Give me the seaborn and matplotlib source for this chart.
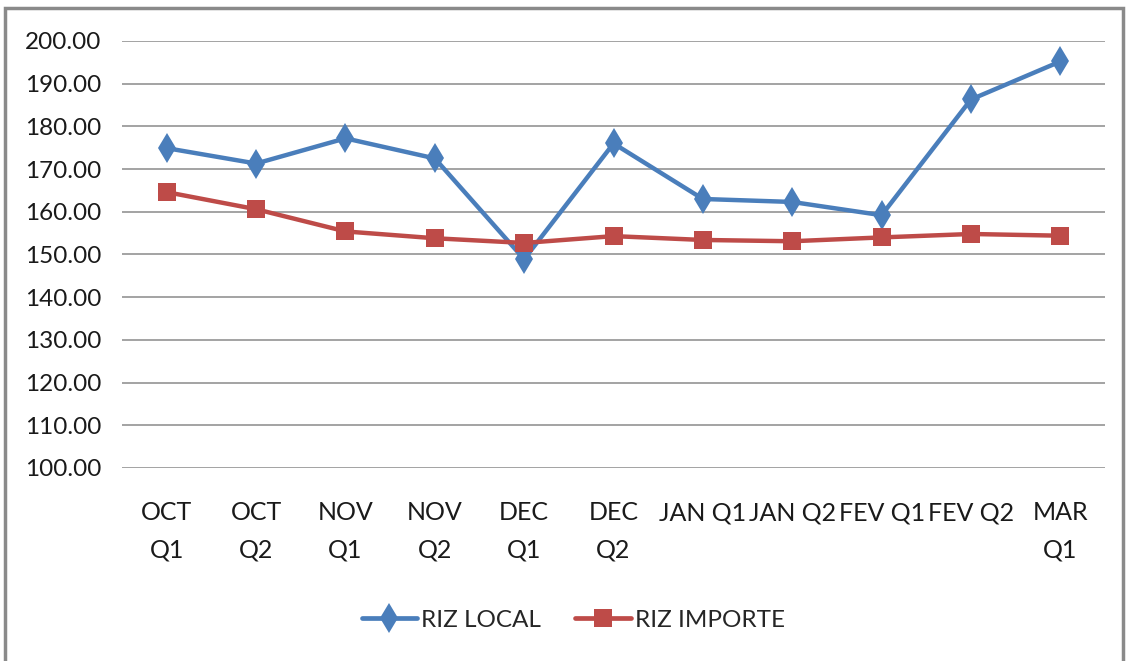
import pandas as pd
import matplotlib.pyplot as plt
import seaborn as sns
from matplotlib.patches import Rectangle

periods = ["OCT\nQ1", "OCT\nQ2", "NOV\nQ1", "NOV\nQ2", "DEC\nQ1", "DEC\nQ2",
           "JAN Q1", "JAN Q2", "FEV Q1", "FEV Q2", "MAR\nQ1"]
riz_local = [174.9, 171.3, 177.2, 172.5, 148.9, 176.0, 163.0, 162.3, 159.2, 186.3, 195.2]
riz_importe = [164.6, 160.6, 155.4, 153.8, 152.7, 154.3, 153.4, 153.1, 154.0, 154.8, 154.4]
series = ["RIZ LOCAL", "RIZ IMPORTE"]
colors = ["#4A7EBB", "#BE4B48"]

df = pd.DataFrame({
    "period": periods * 2,
    "value": riz_local + riz_importe,
    "serie": [series[0]] * len(periods) + [series[1]] * len(periods),
})

sns.set_style("white")
plt.rcParams["font.family"] = ["Lato", "DejaVu Sans"]

fig = plt.figure(figsize=(11.28, 6.61), dpi=100)
ax = fig.add_axes([0.1082, 0.292, 0.8714, 0.646])

sns.lineplot(data=df, x="period", y="value", hue="serie", style="serie",
             hue_order=series, style_order=series, palette=colors,
             markers={"RIZ LOCAL": "d", "RIZ IMPORTE": "s"}, dashes=False,
             linewidth=3.2, markeredgewidth=0, ax=ax, legend=False, sort=False)
for line, ms in zip(ax.lines, [15, 13.5]):
    line.set_markersize(ms)

ax.set_ylim(100, 200)
ax.set_xlim(-0.5, len(periods) - 0.5)
ax.set_yticks(range(100, 201, 10))
ax.set_yticklabels([f"{v:.2f}" for v in range(100, 201, 10)])
ax.set_xticks(range(len(periods)))
ax.set_xticklabels(periods, linespacing=1.75)
ax.yaxis.grid(True, color="#8a8a8a", linewidth=1.1)
ax.tick_params(axis="y", labelsize=17.5, length=0, pad=15, colors="#1a1a1a")
ax.tick_params(axis="x", labelsize=18, length=0, pad=24, colors="#1a1a1a")
for s in ax.spines.values():
    s.set_visible(False)
ax.set_xlabel("")
ax.set_ylabel("")

handles = [plt.Line2D([], [], color=colors[0], marker="d", markersize=15, lw=3.4, markeredgewidth=0),
           plt.Line2D([], [], color=colors[1], marker="s", markersize=13.5, lw=3.4, markeredgewidth=0)]
fig.legend(handles, series, loc="center", bbox_to_anchor=(0.508, 0.062), ncol=2,
           frameon=False, fontsize=17.5, handlelength=2.3, columnspacing=1.4, handletextpad=0.15)

fig.patches.append(Rectangle((0.0044, -0.01), 0.9912, 0.998, transform=fig.transFigure,
                             fill=False, edgecolor="#8a8a8a", linewidth=2.5))

fig.savefig("out.png", dpi=100)
